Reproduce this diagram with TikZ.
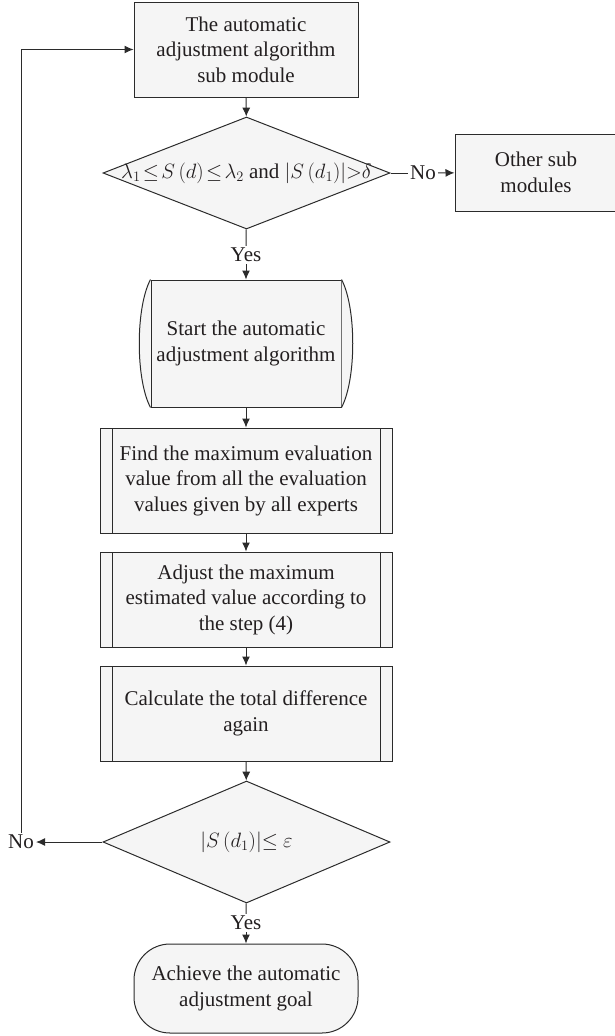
\documentclass[tikz,border=0pt]{standalone}
\usepackage{amsmath}
\usepackage{amssymb}
\usepackage{fontspec}
\setmainfont{Liberation Serif}
\usepackage{xcolor}
\usetikzlibrary{shapes.geometric}
\usetikzlibrary{arrows.meta}

\definecolor{linecol}{HTML}{2B2B2B}
\definecolor{boxfill}{HTML}{F5F5F5}
\definecolor{textcol}{HTML}{231F20}

\tikzset{
	every node/.style={font=\fontsize{21pt}{25.5pt}\selectfont, text=textcol},
	plainbox/.style={draw=linecol, fill=boxfill, line width=1pt, align=center, inner sep=2pt},
	procbox/.style={plainbox, minimum width=292pt,
		path picture={\draw[linecol, line width=1pt]
			([xshift=12pt]path picture bounding box.north west) -- ([xshift=12pt]path picture bounding box.south west)
			([xshift=-12pt]path picture bounding box.north east) -- ([xshift=-12pt]path picture bounding box.south east);}},
	decision/.style={diamond, draw=linecol, fill=boxfill, line width=1pt, inner sep=0pt, minimum width=287pt},
	goalbox/.style={plainbox, rounded corners=36pt, minimum width=224pt, minimum height=89pt},
	tag/.style={inner sep=2pt},
	flow/.style={draw=linecol, line width=1pt},
	>={Latex[length=9pt,width=8pt]}
}

\begin{document}
\begin{tikzpicture}[x=1pt, y=-1pt]
	\useasboundingbox (0,0) rectangle (615,1036);

	% boxes of the main column
	\node[plainbox, minimum width=224pt, minimum height=95pt] (top) at (246,49.5) {The automatic\\adjustment algorithm\\sub module};
	\node[decision, minimum height=112pt] (dec1) at (246.5,173) {\makebox[0pt]{\thickmuskip=2mu $\lambda_1 \leq S\,(d) \leq \lambda_2$ and $|S\,(d_1)|{>}\delta$}};
	\node[plainbox, minimum width=162pt, minimum height=77pt] (other) at (536,172.5) {Other sub\\modules};
	\node[plainbox, minimum width=190pt, minimum height=127pt] (start) at (246,343.5) {Start the automatic\\adjustment algorithm};
	\filldraw[draw=linecol, fill=boxfill, line width=1pt] (start.north west) .. controls +(-15,28) and +(-15,-28) .. (start.south west);
	\filldraw[draw=linecol, fill=boxfill, line width=1pt] (start.north east) .. controls +(15,28) and +(15,-28) .. (start.south east);
	\node[procbox, minimum height=105pt] (find) at (246,480.5) {Find the maximum evaluation\\value from all the evaluation\\values given by all experts};
	\node[procbox, minimum height=95pt] (adjust) at (246,599.5) {Adjust the maximum\\estimated value according to\\the step (4)};
	\node[procbox, minimum height=95pt] (calc) at (246,713.5) {Calculate the total difference\\again};
	\node[decision, minimum height=122pt] (dec2) at (246.5,842) {\makebox[0pt]{$|S\,(d_1)|{\leq}\ \varepsilon$}};
	\node[goalbox] (goal) at (246,988.5) {Achieve the automatic\\adjustment goal};

	% labels on the branches
	\node[tag] (no1) at (423,173) {No};
	\node[tag] (yes1) at (246,255) {Yes};
	\node[tag] (no2) at (21,842) {No};
	\node[tag] (yes2) at (246,923) {Yes};

	% connectors
	\draw[flow, ->] (top) -- (dec1);
	\draw[flow] (dec1) -- (no1);
	\draw[flow, ->] (no1) -- (other);
	\draw[flow] (dec1) -- (yes1);
	\draw[flow, ->] (yes1) -- (start);
	\draw[flow, ->] (start) -- (find);
	\draw[flow, ->] (find) -- (adjust);
	\draw[flow, ->] (adjust) -- (calc);
	\draw[flow, ->] (calc) -- (dec2);
	\draw[flow, ->] (dec2) -- (no2);
	\draw[flow, ->] (no2) |- (top);
	\draw[flow] (dec2) -- (yes2);
	\draw[flow, ->] (yes2) -- (goal);
\end{tikzpicture}
\end{document}
